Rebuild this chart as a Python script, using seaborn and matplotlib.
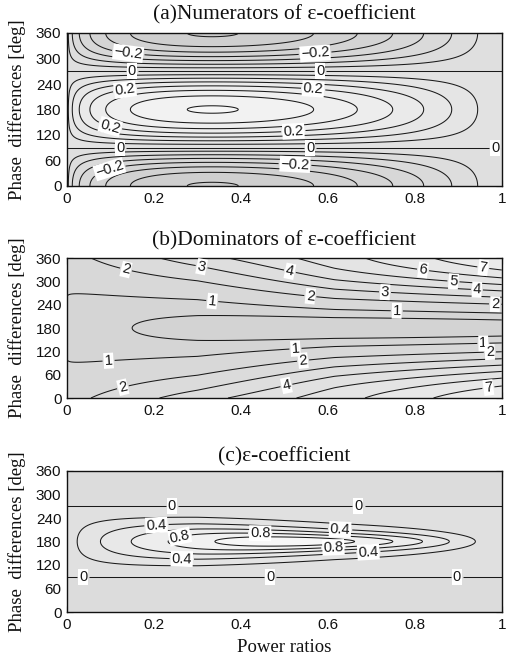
import numpy as np
import matplotlib
matplotlib.use("Agg")
import matplotlib.pyplot as plt
import seaborn as sns

# ---------------- data ----------------
power_ratios = np.linspace(0.0005, 0.9995, 400)      # x grid
phase_degrees = np.linspace(0.0, 360.0, 721)          # y grid

# numerator: N = -scale*sqrt(r)*(1-r)*cos(phi)
numerator_scale = 0.92
# denominator:
den_phase0 = [1.65, 6.35]                    # value along 0/360 deg: a + b r
den_phase180 = [0.8, -0.695, -0.276, 0.46]   # along 180 deg: a + b sqrt(r) + c r + d r^2
den_blend = [0.3, 0.45, 0.7]                 # start, width, max weight of cosine profile

levels_num = np.round(np.arange(-0.35, 0.351, 0.05), 2)
labels_num = [-0.2, 0.0, 0.2]
levels_den = [0.5, 1, 2, 3, 4, 5, 6, 7, 8]
labels_den = [1, 2, 3, 4, 5, 6, 7]
levels_eps = [0.0, 0.2, 0.4, 0.6, 0.8, 1.0]
labels_eps = [0.0, 0.4, 0.8]

x_ticks = [0, 0.2, 0.4, 0.6, 0.8, 1]
x_tick_labels = ["0", "0.2", "0.4", "0.6", "0.8", "1"]
y_ticks = [0, 60, 120, 180, 240, 300, 360]
y_tick_labels = ["0", "60", "120", "180", "240", "300", "360"]

titles = ["(a)Numerators of \u03b5-coefficient",
          "(b)Dominators of \u03b5-coefficient",
          "(c)\u03b5-coefficient"]
y_label = "Phase  differences [deg]"
x_label = "Power ratios"

# label placement (layout), (power ratio, phase)
manual_a = [(0.141, 316), (0.149, 273), (0.133, 230), (0.099, 139), (0.122, 90),
            (0.099, 34), (0.570, 316), (0.582, 273), (0.566, 230), (0.52, 136),
            (0.559, 90), (0.524, 49), (0.985, 90)]
manual_b = [(0.137, 337), (0.31, 341), (0.333, 239), (0.095, 106), (0.129, 25),
            (0.505, 29), (0.513, 329), (0.559, 258), (0.731, 269), (0.758, 220),
            (0.819, 333), (0.888, 294), (0.942, 273), (0.957, 335), (0.984, 239),
            (0.524, 149), (0.543, 93), (0.957, 145), (0.972, 119), (0.968, 33)]
manual_c = [(0.241, 267), (0.206, 216), (0.26, 188), (0.264, 140), (0.037, 88),
            (0.444, 197), (0.467, 88), (0.67, 267), (0.628, 216), (0.612, 171),
            (0.693, 148), (0.896, 88)]

# ---------------- fields ----------------
R, P = np.meshgrid(power_ratios, phase_degrees)
phi = np.deg2rad(P)
N = -numerator_scale * np.sqrt(R) * (1 - R) * np.cos(phi)

d0 = den_phase0[0] + den_phase0[1] * R
a, b, c, d = den_phase180
d180 = a + b * np.sqrt(R) + c * R + d * R ** 2
f_sin = np.abs(np.sin(phi / 2))
f_cos = (1 - np.cos(phi)) / 2
lam = np.clip((R - den_blend[0]) / den_blend[1], 0, den_blend[2])
f = (1 - lam) * f_sin + lam * f_cos
D = d0 - (d0 - d180) * f
E = N / D

# ---------------- style ----------------
sns.set_theme(style="ticks")
plt.rcParams["font.family"] = ["Liberation Sans", "DejaVu Sans"]
plt.rcParams["axes.unicode_minus"] = True

serif = ["Liberation Serif", "DejaVu Serif"]

fig = plt.figure(figsize=(5.12, 6.6), dpi=100)
L, W = 67 / 512, 435 / 512
boxes = [(33, 186), (258, 398), (471, 612)]
title_pads = [10, 9, 7]

def fmt(v):
    v = round(float(v), 2)
    if abs(v) < 1e-9:
        return "0"
    s_ = f"{v:g}"
    return s_.replace("-", "\u2212")

specs = [
    (N, levels_num, labels_num, manual_a,
     sns.blend_palette(["#cbcbcb", "#f6f6f6"], as_cmap=True), -0.4, 0.4),
    (D, levels_den, labels_den, manual_b,
     sns.blend_palette(["#d3d3d3", "#ededed"], as_cmap=True), 0.0, 8.5),
    (E, levels_eps, labels_eps, manual_c,
     sns.blend_palette(["#dcdcdc", "#f7f7f7"], as_cmap=True), -0.1, 1.2),
]

for i, ((top, bot), (Z, lev, lab, man, cmap, vmin, vmax)) in enumerate(zip(boxes, specs)):
    ax = fig.add_axes([L, 1 - bot / 660, W, (bot - top) / 660])
    fill_lev = np.concatenate(([Z.min() - 1], lev, [Z.max() + 1]))
    ax.contourf(R, P, Z, levels=fill_lev, cmap=cmap, vmin=vmin, vmax=vmax)
    plain = [l for l in lev if not any(abs(l - x) < 1e-6 for x in lab)]
    labeled = [l for l in lev if any(abs(l - x) < 1e-6 for x in lab)]
    if plain:
        ax.contour(R, P, Z, levels=plain, colors="#1a1a1a", linewidths=0.75,
                   linestyles="solid")
    cs = ax.contour(R, P, Z, levels=labeled, colors="#1a1a1a", linewidths=0.75,
                    linestyles="solid")
    texts = ax.clabel(cs, fmt=fmt, inline=True, fontsize=10.5,
                      manual=man, inline_spacing=2)
    for t in texts:
        t.set_bbox(dict(facecolor="white", edgecolor="none", pad=0.6))
    ax.set_xlim(0, 1)
    ax.set_ylim(0, 360)
    ax.set_xticks(x_ticks)
    ax.set_xticklabels(x_tick_labels)
    ax.set_yticks(y_ticks)
    ax.set_yticklabels(y_tick_labels)
    ax.tick_params(direction="in", top=True, right=True, length=4, width=0.8,
                   labelsize=11, pad=4, colors="#111111")
    for sp in ax.spines.values():
        sp.set_linewidth(1.0)
        sp.set_color("#111111")
    ax.set_title(titles[i], fontsize=15.5, family=serif, pad=title_pads[i],
                 color="#111111")
    ax.set_ylabel(y_label, fontsize=13.5, family=serif, labelpad=7, color="#111111")
    if i == 2:
        ax.set_xlabel(x_label, fontsize=13.5, family=serif, labelpad=5, color="#111111")

fig.savefig("out.png", dpi=100)
